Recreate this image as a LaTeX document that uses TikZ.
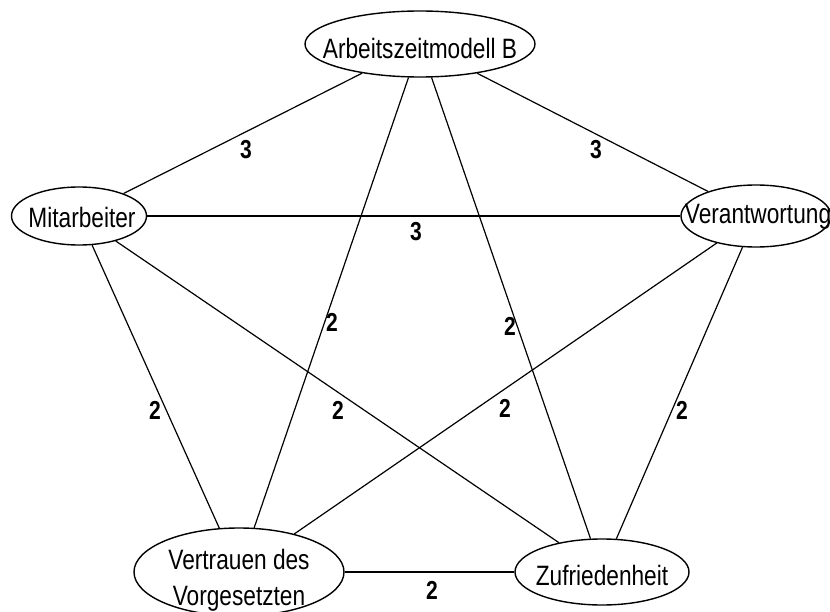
\documentclass[tikz,border=0pt]{standalone}
\usepackage{fontspec}
\setmainfont{Liberation Sans}[FakeStretch=0.81]
\usetikzlibrary{shapes.geometric}
\begin{document}
\begin{tikzpicture}[x=1pt,y=-1pt,
  ell/.style={draw, ellipse, line width=1.4pt, inner sep=0pt},
  txt/.style={inner sep=0pt, align=center, font=\fontsize{28}{36}\selectfont},
  conn/.style={line width=1.2pt},
  lbl/.style={inner sep=0pt, font=\fontsize{26}{26}\selectfont\bfseries}]
\useasboundingbox (0,0) rectangle (830,612);
\clip (0,0) rectangle (830,612);
\node[ell, minimum width=230pt, minimum height=66pt,
  label={[txt, yshift=-4pt]center:Arbeitszeitmodell B}] (A) at (420,44) {};
\node[ell, minimum width=135pt, minimum height=58pt,
  label={[txt, yshift=-1pt, xshift=3pt]center:Mitarbeiter}] (M) at (79,216) {};
\node[ell, minimum width=150pt, minimum height=62pt,
  label={[txt, yshift=-1pt, xshift=2pt]center:Verantwortung}] (V) at (756,216) {};
\node[ell, minimum width=210pt, minimum height=88pt,
  label={[txt, yshift=-8pt]center:Vertrauen des\\Vorgesetzten}] (T) at (239,572) {};
\node[ell, minimum width=174pt, minimum height=66pt,
  label={[txt, yshift=-3pt]center:Zufriedenheit}] (Z) at (602,572) {};
\draw[conn] (A) -- (M);
\draw[conn] (A) -- (V);
\draw[conn] (M) -- (V);
\draw[conn] (A) -- (T);
\draw[conn] (A) -- (Z);
\draw[conn] (M) -- (T);
\draw[conn] (M) -- (Z);
\draw[conn] (V) -- (T);
\draw[conn] (V) -- (Z);
\draw[conn] (T) -- (Z);
\node[lbl] (l1) at (246,150) {3};
\node[lbl] (l2) at (596,150) {3};
\node[lbl] (l3) at (416,232) {3};
\node[lbl] (l4) at (332,322) {2};
\node[lbl] (l5) at (510,326) {2};
\node[lbl] (l6) at (155,410) {2};
\node[lbl] (l7) at (338,410) {2};
\node[lbl] (l8) at (505,408) {2};
\node[lbl] (l9) at (682,410) {2};
\node[lbl] (l10) at (432,590) {2};
\end{tikzpicture}
\end{document}
